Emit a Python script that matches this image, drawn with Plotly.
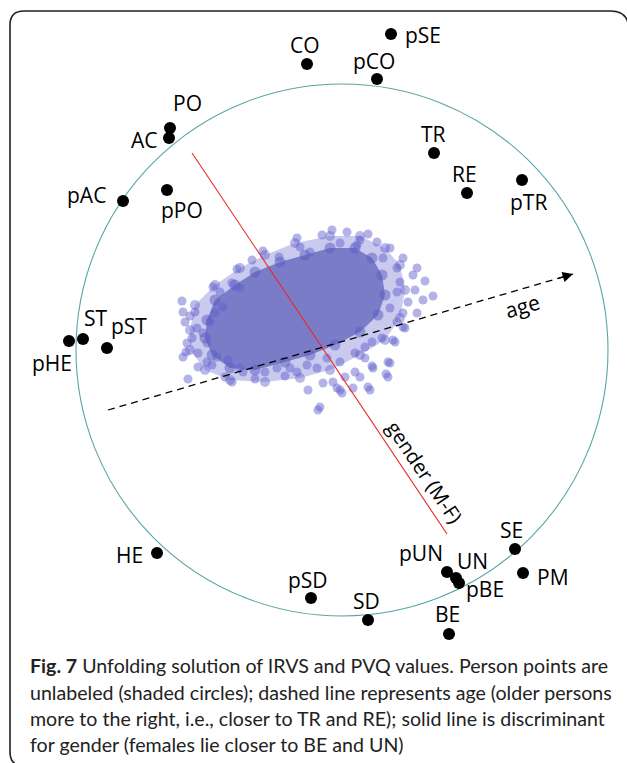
import plotly.graph_objects as go

# ---- data: unfolding configuration (arbitrary units, circle radius 2.66) ----
value_labels = ["CO", "pSE", "pCO", "PO", "AC", "pAC", "pPO", "TR", "RE", "pTR",
                "pHE", "ST", "pST", "HE", "pSD", "SD", "pUN", "UN", "pBE", "SE", "PM", "BE"]
value_dim1 = [-0.35, 0.49, 0.35, -1.72, -1.73, -2.19, -1.75, 0.92, 1.25, 1.80,
              -2.73, -2.59, -2.35, -1.85, -0.31, 0.26, 1.05, 1.14, 1.17, 1.73, 1.81, 1.07]
value_dim2 = [2.86, 3.16, 2.71, 2.22, 2.12, 1.49, 1.60, 1.97, 1.57, 1.70,
              0.09, 0.11, 0.02, -2.03, -2.48, -2.70, -2.22, -2.28, -2.33, -1.99, -2.23, -2.84]

# dense core of person points (outline)
core_dim1 = [-1.35, -1.27, -1.07, -0.87, -0.62, -0.37, -0.12, 0.13, 0.30, 0.40,
             0.43, 0.36, 0.18, -0.07, -0.32, -0.57, -0.87, -1.12, -1.30, -1.37]
core_dim2 = [0.30, 0.50, 0.65, 0.78, 0.88, 0.95, 1.02, 1.02, 0.92, 0.75,
             0.55, 0.35, 0.18, 0.05, -0.05, -0.12, -0.20, -0.18, -0.05, 0.12]

# looser envelope of person points (outline)
env_dim1 = [-1.52, -1.47, -1.27, -1.02, -0.77, -0.47, -0.12, 0.18, 0.43, 0.58,
            0.63, 0.58, 0.43, 0.18, -0.12, -0.42, -0.77, -1.12, -1.37, -1.52]
env_dim2 = [0.20, 0.45, 0.65, 0.82, 0.95, 1.07, 1.14, 1.14, 1.02, 0.85,
            0.60, 0.32, 0.10, -0.05, -0.20, -0.28, -0.32, -0.30, -0.20, 0.00]

# individual person points around the core
person_dim1 = [-0.79, -0.90, -1.05, -0.63, -1.29, -1.10, -1.02, -1.60, -1.59, -1.52,
               -1.47, -1.57, -1.45, -1.50, -1.55, -1.56, -1.59, -1.44, -1.35, -1.30,
               -1.44, -1.54, -1.17, -1.10, -0.99, -0.87, -0.77, -0.57, -0.65, -1.22,
               -1.19, -1.27, -1.32, -1.39, -1.35, -1.25, -1.14, -1.02, -0.45,
               -0.20, -0.10, 0.05, 0.26, 0.18, 0.35, 0.48, 0.61, 0.75, 0.71,
               0.73, 0.66, 0.61, 0.75, 0.63, 0.53, 0.40, 0.30, 0.23, 0.13,
               0.23, 0.31, 0.48, 0.46, 0.13, 0.18, 0.03, -0.09, -0.19, -0.34,
               -0.05, 0.00, 0.11, 0.28, -0.45, -0.35, -0.52, -0.25, -0.15, -0.02,
               -0.32, -0.42, -0.02, 0.15, 0.41, 0.55, 0.58, 0.55, 0.48, 0.55,
               0.83, 0.91, 0.81, 0.61, 0.51, 0.46, 0.44, 0.30, 0.26, -0.22, -0.02, -0.24]
person_dim2 = [0.99, 0.90, 0.81, 0.93, 0.63, 0.67, 0.62, 0.49, 0.38, 0.34,
               0.38, 0.28, 0.22, 0.12, 0.07, -0.02, -0.07, -0.03, -0.12, -0.15,
               -0.17, -0.29, -0.27, -0.32, -0.22, -0.29, -0.22, -0.26, -0.18, 0.58,
               0.43, 0.37, 0.28, 0.17, 0.07, -0.07, -0.10, -0.18, 1.12,
               1.15, 1.20, 1.18, 1.16, 1.10, 1.08, 1.02, 0.92, 0.82, 0.75,
               0.60, 0.48, 0.37, 0.37, 0.22, 0.08, 0.12, 0.08, 0.03, -0.03,
               -0.08, -0.18, -0.13, -0.27, -0.22, -0.27, -0.27, -0.32, -0.33, -0.40,
               -0.38, -0.43, -0.38, -0.40, -0.22, -0.15, -0.18, -0.18, -0.08, -0.12,
               0.98, 1.03, 1.07, 1.05, 0.92, 0.82, 0.68, 0.58, 0.42, 0.28,
               0.69, 0.54, 0.50, 0.23, 0.10, -0.12, -0.24, -0.16, -0.37, -0.57, -0.40, -0.60]

# direction lines (start, end)
age_dim1 = [-2.34, 2.31]
age_dim2 = [-0.60, 0.76]
gender_dim1 = [-1.50, 1.05]
gender_dim2 = [1.97, -1.84]
circle_radius = 2.66

caption_lines = [
    "<b>Fig. 7</b> Unfolding solution of IRVS and PVQ values. Person points are",
    "unlabeled (shaded circles); dashed line represents age (older persons",
    "more to the right, i.e., closer to TR and RE); solid line is discriminant",
    "for gender (females lie closer to BE and UN)",
]

# label offsets in pixels (dx right, dy down) – layout only
label_offsets = {
    "CO": (-2, -19), "pSE": (32, 1), "pCO": (-3, -18), "PO": (17, -25), "AC": (-25, 2),
    "pAC": (-37, -6), "pPO": (15, 20), "TR": (-1, -19), "RE": (-3, -19), "pTR": (6, 22),
    "pHE": (-17, 22), "ST": (13, -21), "pST": (22, -22), "HE": (-28, 2), "pSD": (-3, -18),
    "SD": (-2, -19), "pUN": (-26, -19), "UN": (16, -17), "pBE": (26, 6), "SE": (-4, -19),
    "PM": (30, 4), "BE": (-2, -20),
}

W, H = 627, 763
SCALE = 100.0  # px per unit
CX, CY = 342, 350
x_range = [(0 - CX) / SCALE, (W - CX) / SCALE]
y_range = [(CY - H) / SCALE, (CY - 0) / SCALE]

fig = go.Figure()

# circle
fig.add_shape(type="circle", xref="x", yref="y",
              x0=-circle_radius, x1=circle_radius, y0=-circle_radius, y1=circle_radius,
              line=dict(color="rgb(90,165,165)", width=1.1), layer="below")

# person cloud: envelope, core, individual points
fig.add_trace(go.Scatter(x=env_dim1 + env_dim1[:1], y=env_dim2 + env_dim2[:1],
                         mode="lines", fill="toself",
                         fillcolor="rgba(150,150,222,0.5)", line=dict(width=0, color="rgba(0,0,0,0)"),
                         hoverinfo="skip"))
fig.add_trace(go.Scatter(x=env_dim1, y=env_dim2, mode="markers",
                         marker=dict(size=10, color="rgba(100,100,205,0.45)"), hoverinfo="skip"))
fig.add_trace(go.Scatter(x=core_dim1 + core_dim1[:1], y=core_dim2 + core_dim2[:1],
                         mode="lines", fill="toself",
                         fillcolor="rgb(122,124,200)", line=dict(width=0, color="rgba(0,0,0,0)"),
                         hoverinfo="skip"))
fig.add_trace(go.Scatter(x=core_dim1, y=core_dim2, mode="markers",
                         marker=dict(size=11, color="rgba(90,92,190,0.5)"), hoverinfo="skip"))
fig.add_trace(go.Scatter(x=person_dim1, y=person_dim2, mode="markers",
                         marker=dict(size=9, color="rgba(96,96,206,0.48)", line=dict(width=0)),
                         hoverinfo="skip"))

# gender line
fig.add_trace(go.Scatter(x=gender_dim1, y=gender_dim2, mode="lines",
                         line=dict(color="rgb(232,40,40)", width=1.1), hoverinfo="skip"))
# age line (dashed)
fig.add_trace(go.Scatter(x=age_dim1, y=age_dim2, mode="lines",
                         line=dict(color="black", width=1.3, dash="7px,5px"), hoverinfo="skip"))

# value points
fig.add_trace(go.Scatter(x=value_dim1, y=value_dim2, mode="markers",
                         marker=dict(size=12, color="black"), hoverinfo="skip"))

annotations = []
label_font = dict(family="Open Sans", size=21, color="#000")
for lab, vx, vy in zip(value_labels, value_dim1, value_dim2):
    dx, dy = label_offsets[lab]
    annotations.append(dict(x=vx, y=vy, xref="x", yref="y", text=lab, showarrow=False,
                            xshift=dx, yshift=-dy, font=label_font,
                            xanchor="center", yanchor="middle"))

# arrow head of age line
ux = age_dim1[1] - age_dim1[0]
uy = age_dim2[1] - age_dim2[0]
annotations.append(dict(x=age_dim1[1], y=age_dim2[1], xref="x", yref="y",
                        ax=age_dim1[1] - ux * 0.035, ay=age_dim2[1] - uy * 0.035,
                        axref="x", ayref="y", showarrow=True, arrowhead=2, arrowsize=1.6,
                        arrowwidth=1.3, arrowcolor="black", text="", standoff=0))

annotations.append(dict(x=1.80, y=0.44, xref="x", yref="y", text="age", showarrow=False,
                        textangle=-16, font=dict(family="Open Sans", size=21, color="#000")))
annotations.append(dict(x=0.83, y=-1.22, xref="x", yref="y", text="gender (M-F)", showarrow=False,
                        textangle=56, font=dict(family="Open Sans", size=20, color="#000")))

# caption
cap_y = [665, 692, 718, 744]
for line, py in zip(caption_lines, cap_y):
    annotations.append(dict(x=28 / W, y=1 - py / H, xref="paper", yref="paper", text=line,
                            showarrow=False, xanchor="left", yanchor="middle",
                            font=dict(family="Lato", size=19.6, color="#222")))

# rounded frame (paper coords): top and left edges with rounded corners
def P(px, py):
    return f"{px / W:.5f},{1 - py / H:.5f}"

L, T, R, B, r = 10, 11, 629, 766, 14
path = (f"M {P(R, T + r + 6)} Q {P(R, T)} {P(R - r - 4, T)} L {P(L + r, T)} "
        f"Q {P(L, T)} {P(L, T + r)} L {P(L, B - r)} Q {P(L, B)} {P(L + r, B)}")
fig.add_shape(type="path", xref="paper", yref="paper", path=path,
              line=dict(color="#222", width=1.6))

fig.update_layout(
    width=W, height=H, margin=dict(l=0, r=0, t=0, b=0),
    paper_bgcolor="white", plot_bgcolor="white", showlegend=False,
    xaxis=dict(range=x_range, visible=False, fixedrange=True),
    yaxis=dict(range=y_range, visible=False, fixedrange=True),
    annotations=annotations,
)

fig.write_html("out.html", config={"displayModeBar": False},
               post_script="document.body.style.margin='0';document.body.style.overflow='hidden';")
